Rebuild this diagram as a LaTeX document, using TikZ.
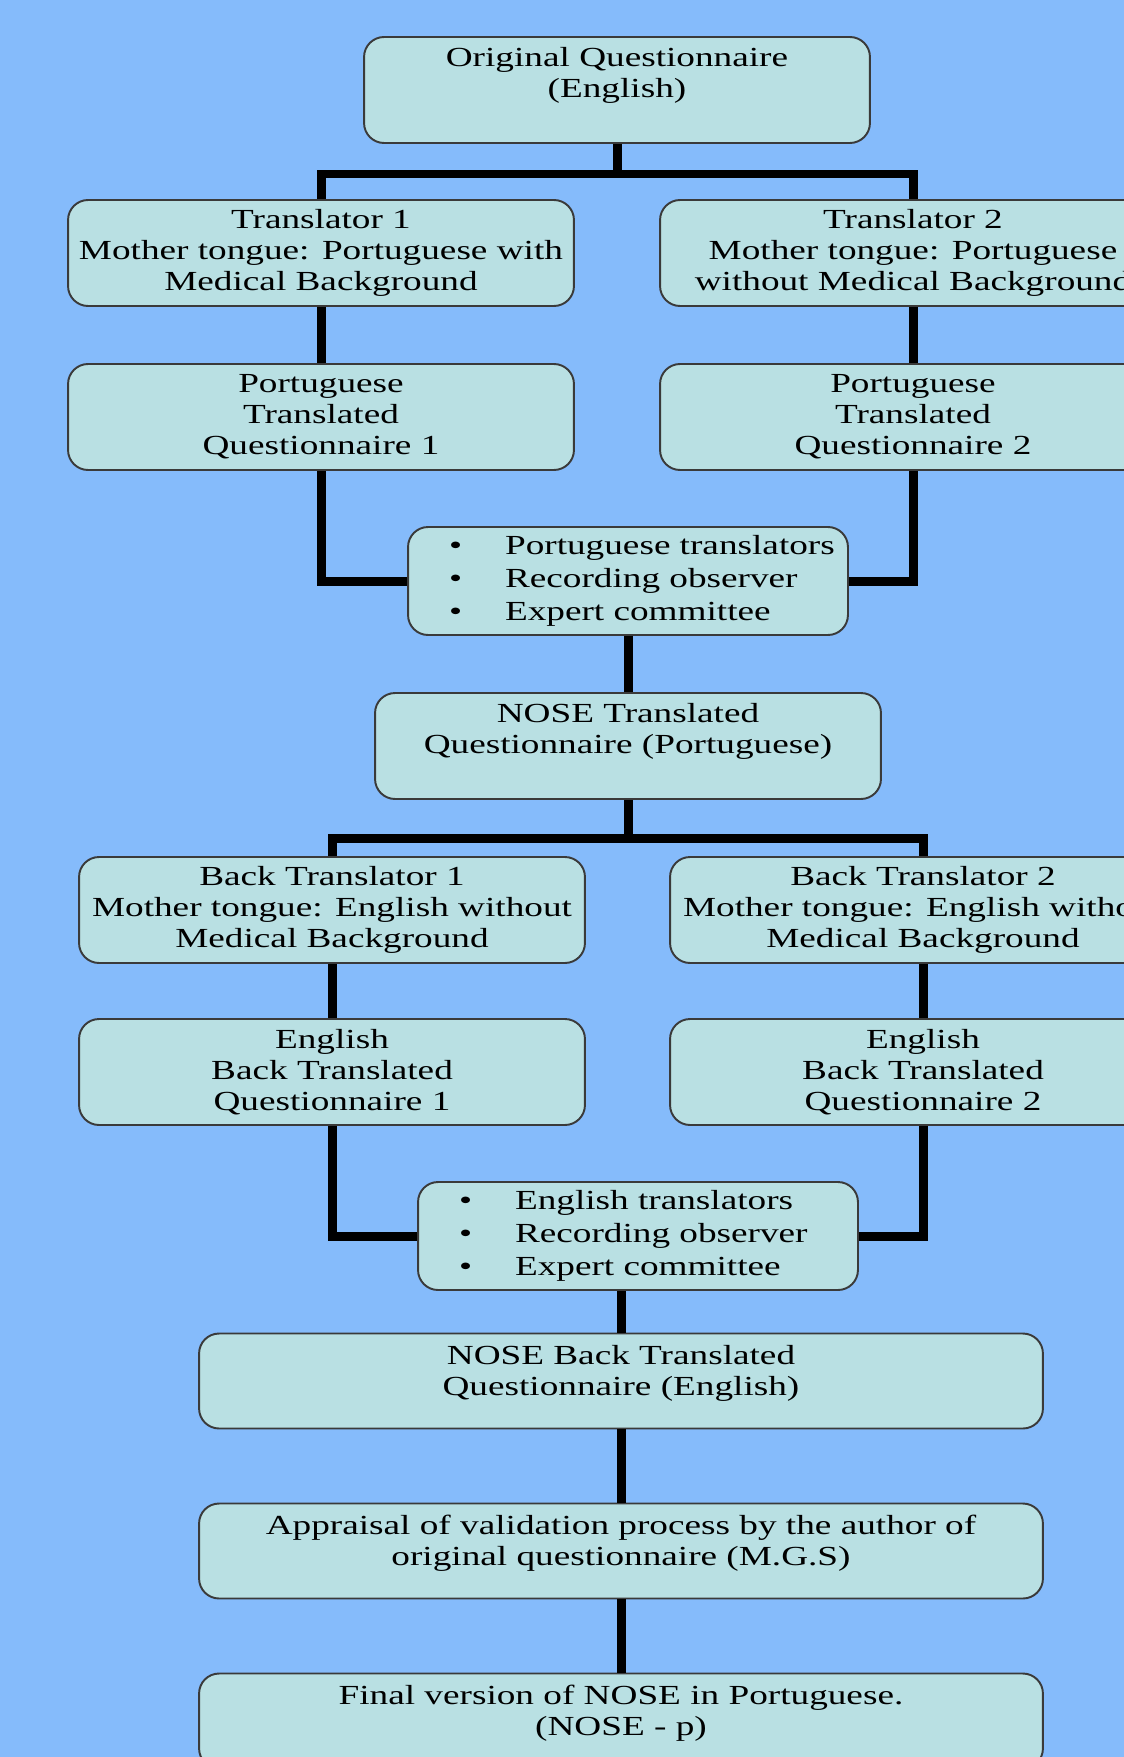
\documentclass[tikz,border=0pt]{standalone}
\usepackage{fontspec}
\setmainfont{Liberation Serif}[FakeStretch=1.35]
\definecolor{sky}{HTML}{85BBFB}
\definecolor{pale}{HTML}{B9E0E3}
\definecolor{rim}{HTML}{3A3A3A}

\begin{document}
\begin{tikzpicture}[x=0.02cm,y=-0.02cm, % 1 unit = 1 px of the 1124x1757 sheet
  box/.style={draw=rim,line width=1.1pt,fill=pale,rounded corners=0.4cm,
    align=center,inner sep=2pt,font=\fontsize{15.7}{17.6}\selectfont},
  wide/.style={box,minimum width=10.12cm,minimum height=2.12cm},
  list/.style={box,align=left,inner xsep=0.2cm,text width=8.4cm,minimum height=2.16cm},
  long/.style={box,minimum width=16.88cm,minimum height=1.9cm},
  link/.style={line width=0.18cm}]
   \renewcommand{\arraystretch}{1.06}
   \newcommand{\bullets}[3]{\begin{tabular}{@{\hspace*{0.62cm}}l@{\hspace{0.86cm}}l@{}}
     \textbullet & #1\\ \textbullet & #2\\ \textbullet & #3\end{tabular}}
   \useasboundingbox (0,0) rectangle (1124,1757);
   \fill[sky] (0,0) rectangle (1124,1757);
   \clip (0,0) rectangle (1124,1757);
   \node[wide] (orig) at (617,90) {Original Questionnaire\\(English)\\[-3pt]\strut};
   \node[wide] (tr1) at (321,253) {Translator 1\\Mother tongue: Portuguese with\\Medical Background};
   \node[wide] (tr2) at (913,253) {Translator 2\\Mother tongue: Portuguese\\without Medical Background};
   \node[wide] (ptq1) at (321,417) {Portuguese\\Translated\\Questionnaire 1};
   \node[wide] (ptq2) at (913,417) {Portuguese\\Translated\\Questionnaire 2};
   \node[list] (com1) at (628,581) {\bullets{Portuguese translators}{Recording observer}{Expert committee}};
   \node[wide] (nt) at (628,746) {NOSE Translated\\Questionnaire (Portuguese)\\[-3pt]\strut};
   \node[wide] (bt1) at (332,910) {Back Translator 1\\Mother tongue: English without\\Medical Background};
   \node[wide] (bt2) at (923,910) {Back Translator 2\\Mother tongue: English without\\Medical Background};
   \node[wide] (ebq1) at (332,1072) {English\\Back Translated\\Questionnaire 1};
   \node[wide] (ebq2) at (923,1072) {English\\Back Translated\\Questionnaire 2};
   \node[list] (com2) at (638,1236) {\bullets{English translators}{Recording observer}{Expert committee}};
   \node[long] (nbq) at (621,1381) {NOSE Back Translated\\Questionnaire (English)\\[-10.8pt]\strut};
   \node[long] (app) at (621,1551) {Appraisal of validation process by the author of\\original questionnaire (M.G.S)\\[-10.8pt]\strut};
   \node[long] (fin) at (621,1721) {Final version of NOSE in Portuguese.\\(NOSE - p)\\[-10.8pt]\strut};
   \coordinate (fork1) at (617,174);
   \coordinate (fork2) at (628,838);
   \draw[link] (orig) -- (fork1);
   \draw[link] (tr1.north) |- (fork1) -| (tr2.north);
   \draw[link] (tr1) -- (ptq1);
   \draw[link] (tr2) -- (ptq2);
   \draw[link] (ptq1.south) |- (com1.west);
   \draw[link] (ptq2.south) |- (com1.east);
   \draw[link] (com1) -- (nt);
   \draw[link] (nt) -- (fork2);
   \draw[link] (bt1.north) |- (fork2) -| (bt2.north);
   \draw[link] (bt1) -- (ebq1);
   \draw[link] (bt2) -- (ebq2);
   \draw[link] (ebq1.south) |- (com2.west);
   \draw[link] (ebq2.south) |- (com2.east);
   \draw[link] (nbq.north) -- (nbq.north |- com2.south);
   \draw[link] (nbq) -- (app);
   \draw[link] (app) -- (fin);
\end{tikzpicture}
\end{document}
